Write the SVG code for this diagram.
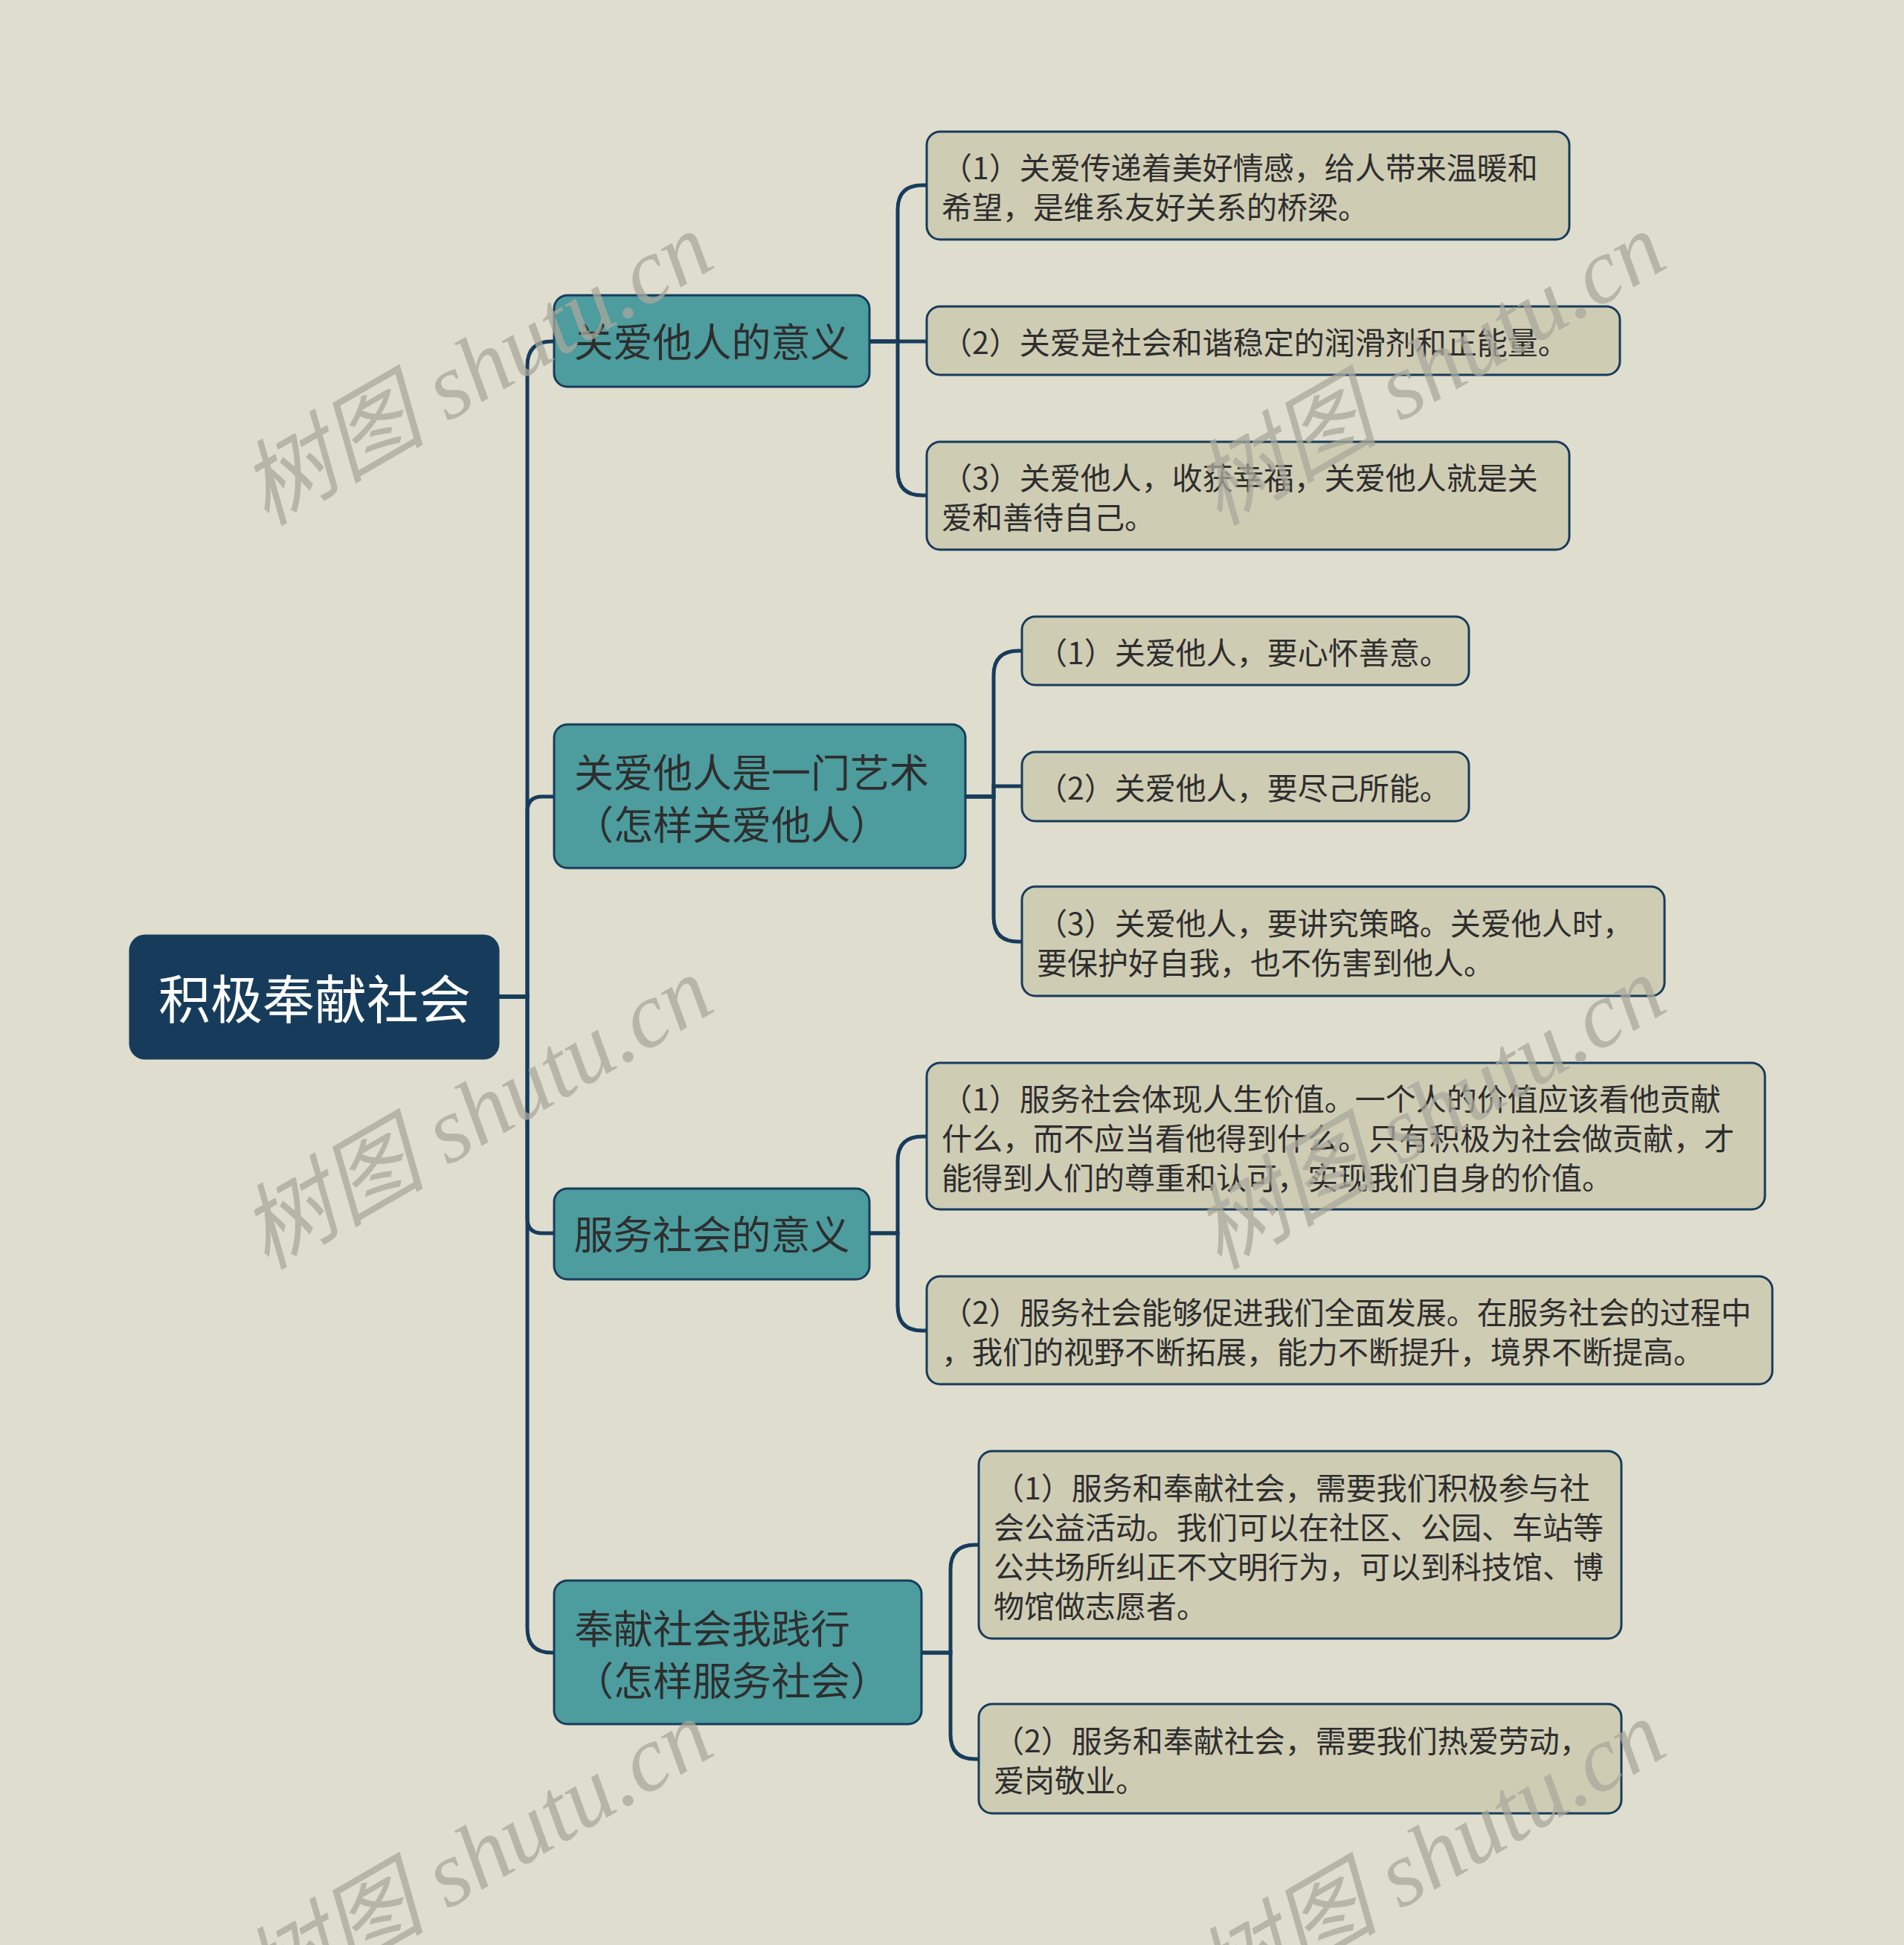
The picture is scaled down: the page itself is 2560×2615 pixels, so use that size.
<svg xmlns="http://www.w3.org/2000/svg" width="2560" height="2615" viewBox="0 0 2560 2615">
<style>
.bg{fill:#DFDDCE}
.root rect{fill:#173C5B;stroke:#173C5B;stroke-width:3}
.root text{fill:#FFFFFF;font-family:"Noto Sans CJK SC","Noto Sans",sans-serif;font-size:70px;text-anchor:middle;dominant-baseline:central}
.branch rect{fill:#4D9C9E;stroke:#173C5B;stroke-width:3}
.branch text{fill:#2E2E2E;font-family:"Noto Sans CJK SC","Noto Sans",sans-serif;font-size:53px;dominant-baseline:central}
.leaf rect{fill:#CFCCB4;stroke:#173C5B;stroke-width:3}
.leaf text{fill:#2E2E2E;font-family:"Noto Sans CJK SC","Noto Sans",sans-serif;font-size:41px;dominant-baseline:central}
.conn path{fill:none;stroke:#173C5B;stroke-width:5}
.wm text{fill:#A9A89C;opacity:0.75;font-family:"Liberation Serif","Noto Sans CJK SC",serif;font-style:italic;font-size:125px}
</style>
<rect class="bg" x="0" y="0" width="2560" height="2615"/>
<g class="conn" id="connectors">
<path d="M670,1340 H709 V492 Q709,459 742,459 H745"/>
<path d="M670,1340 H709 V1091 Q709,1071 729,1071 H745"/>
<path d="M670,1340 H709 V1638 Q709,1658 729,1658 H745"/>
<path d="M670,1340 H709 V2189 Q709,2222 742,2222 H745"/>
<path d="M1169,459 H1207 V282 Q1207,249 1240,249 H1246"/>
<path d="M1169,459 H1246"/>
<path d="M1169,459 H1207 V633 Q1207,666 1240,666 H1246"/>
<path d="M1298,1071 H1336 V908 Q1336,875 1369,875 H1374"/>
<path d="M1298,1071 H1336 V1057 H1374"/>
<path d="M1298,1071 H1336 V1233 Q1336,1266 1369,1266 H1374"/>
<path d="M1169,1658 H1207 V1561 Q1207,1528 1240,1528 H1246"/>
<path d="M1169,1658 H1207 V1756 Q1207,1789 1240,1789 H1246"/>
<path d="M1239,2222 H1278 V2110 Q1278,2077 1311,2077 H1316"/>
<path d="M1239,2222 H1278 V2332 Q1278,2365 1311,2365 H1316"/>
</g>
<g class="root" id="root">
<rect x="175" y="1258" width="495" height="165" rx="20"/>
<text x="423" y="1339">积极奉献社会</text>
</g>
<g class="branch" id="b1">
<rect x="745" y="397" width="424" height="123" rx="18"/>
<text x="957" y="457" text-anchor="middle">关爱他人的意义</text>
</g>
<g class="branch" id="b2">
<rect x="745" y="974" width="553" height="193" rx="18"/>
<text x="772" y="1036">关爱他人是一门艺术</text>
<text x="772" y="1106">（怎样关爱他人）</text>
</g>
<g class="branch" id="b3">
<rect x="745" y="1598" width="424" height="122" rx="18"/>
<text x="957" y="1657" text-anchor="middle">服务社会的意义</text>
</g>
<g class="branch" id="b4">
<rect x="745" y="2125" width="494" height="193" rx="18"/>
<text x="772" y="2187">奉献社会我践行</text>
<text x="772" y="2257">（怎样服务社会）</text>
</g>
<g class="leaf" id="l1-1">
<rect x="1246" y="177" width="864" height="145" rx="18"/>
<text x="1266" y="223">（1）关爱传递着美好情感，给人带来温暖和</text>
<text x="1266" y="276">希望，是维系友好关系的桥梁。</text>
</g>
<g class="leaf" id="l1-2">
<rect x="1246" y="412" width="932" height="92" rx="18"/>
<text x="1266" y="458">（2）关爱是社会和谐稳定的润滑剂和正能量。</text>
</g>
<g class="leaf" id="l1-3">
<rect x="1246" y="594" width="864" height="145" rx="18"/>
<text x="1266" y="640">（3）关爱他人，收获幸福，关爱他人就是关</text>
<text x="1266" y="693">爱和善待自己。</text>
</g>
<g class="leaf" id="l2-1">
<rect x="1374" y="829" width="601" height="92" rx="18"/>
<text x="1394" y="875">（1）关爱他人，要心怀善意。</text>
</g>
<g class="leaf" id="l2-2">
<rect x="1374" y="1011" width="601" height="93" rx="18"/>
<text x="1394" y="1057">（2）关爱他人，要尽己所能。</text>
</g>
<g class="leaf" id="l2-3">
<rect x="1374" y="1192" width="864" height="147" rx="18"/>
<text x="1394" y="1239">（3）关爱他人，要讲究策略。关爱他人时，</text>
<text x="1394" y="1292">要保护好自我，也不伤害到他人。</text>
</g>
<g class="leaf" id="l3-1">
<rect x="1246" y="1429" width="1127" height="197" rx="18"/>
<text x="1266" y="1475">（1）服务社会体现人生价值。一个人的价值应该看他贡献</text>
<text x="1266" y="1528">什么，而不应当看他得到什么。只有积极为社会做贡献，才</text>
<text x="1266" y="1581">能得到人们的尊重和认可，实现我们自身的价值。</text>
</g>
<g class="leaf" id="l3-2">
<rect x="1246" y="1716" width="1137" height="145" rx="18"/>
<text x="1266" y="1762">（2）服务社会能够促进我们全面发展。在服务社会的过程中</text>
<text x="1266" y="1815">，我们的视野不断拓展，能力不断提升，境界不断提高。</text>
</g>
<g class="leaf" id="l4-1">
<rect x="1316" y="1951" width="864" height="252" rx="18"/>
<text x="1336" y="1998">（1）服务和奉献社会，需要我们积极参与社</text>
<text x="1336" y="2051">会公益活动。我们可以在社区、公园、车站等</text>
<text x="1336" y="2104">公共场所纠正不文明行为，可以到科技馆、博</text>
<text x="1336" y="2157">物馆做志愿者。</text>
</g>
<g class="leaf" id="l4-2">
<rect x="1316" y="2291" width="864" height="147" rx="18"/>
<text x="1336" y="2338">（2）服务和奉献社会，需要我们热爱劳动，</text>
<text x="1336" y="2391">爱岗敬业。</text>
</g>
<g class="wm" id="watermarks">
<text transform="translate(358,708) rotate(-30)">树图 shutu.cn</text>
<text transform="translate(1639,708) rotate(-30)">树图 shutu.cn</text>
<text transform="translate(358,1708) rotate(-30)">树图 shutu.cn</text>
<text transform="translate(1639,1708) rotate(-30)">树图 shutu.cn</text>
<text transform="translate(358,2708) rotate(-30)">树图 shutu.cn</text>
<text transform="translate(1639,2708) rotate(-30)">树图 shutu.cn</text>
</g>
</svg>
